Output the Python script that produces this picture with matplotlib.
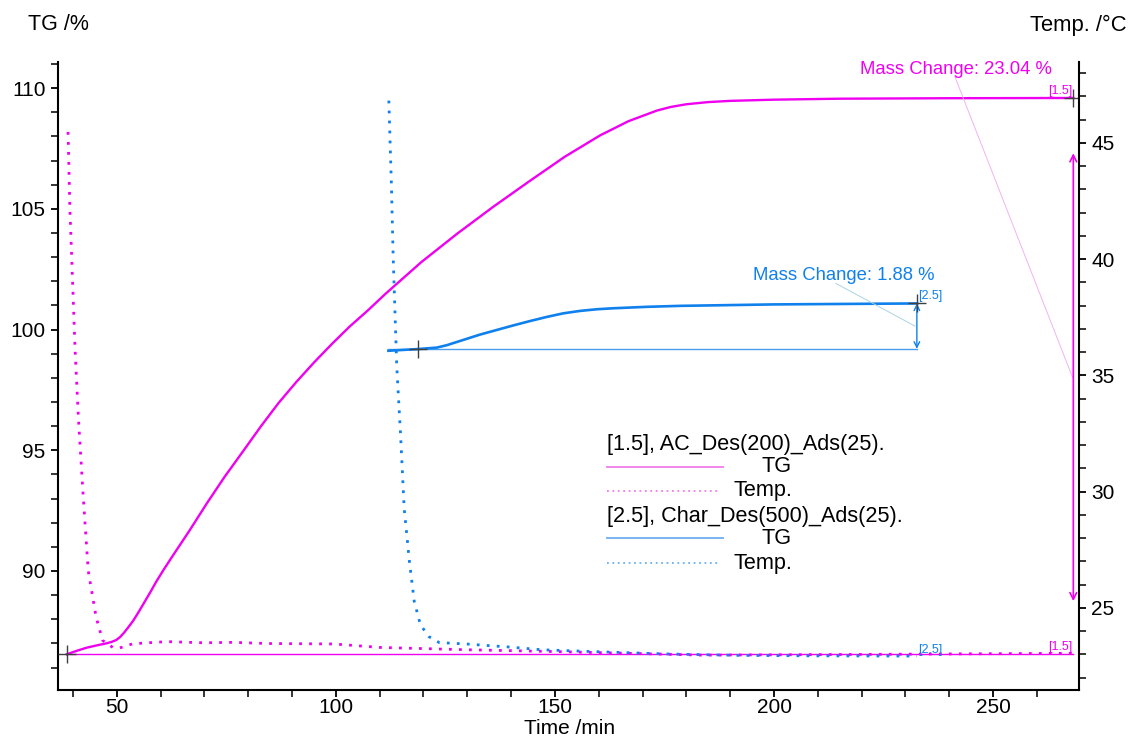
import matplotlib
matplotlib.use("Agg")
import matplotlib.pyplot as plt
from matplotlib.ticker import MultipleLocator

plt.rcParams["font.family"] = ["Liberation Sans", "DejaVu Sans"]

# [1.5] AC_Des(200)_Ads(25)
ac_tg_time = [38.6, 41.0, 43.1, 45.5, 47.6, 48.8, 49.9, 50.8, 51.7, 52.7, 53.8, 55.0, 56.3,
              57.6, 59.0, 60.7, 62.5, 66.6, 70.6, 74.7, 78.8, 82.9, 86.9, 91.0, 95.1, 99.2,
              103.2, 107.3, 111.4, 119.5, 127.7, 135.9, 144.0, 152.2, 160.3, 166.8, 173.3,
              176.5, 180.0, 185.0, 190.0, 200.0, 215.0, 240.0, 268.3]
ac_tg = [86.55, 86.70, 86.82, 86.92, 87.00, 87.06, 87.14, 87.27, 87.45, 87.68, 87.95, 88.30, 88.70,
         89.10, 89.55, 90.05, 90.55, 91.67, 92.81, 93.92, 94.95, 95.99, 96.95, 97.83, 98.65, 99.42,
         100.13, 100.79, 101.49, 102.79, 103.97, 105.08, 106.12, 107.15, 108.04, 108.63, 109.07,
         109.22, 109.33, 109.42, 109.47, 109.52, 109.56, 109.58, 109.59]
ac_temp_time = [38.9, 39.3, 39.9, 40.5, 41.3, 42.3, 43.5, 45.3, 46.8, 49.1, 50.7, 53.7, 61.4,
                70.0, 76.5, 84.2, 99.5, 110.2, 130.0, 151.0, 183.7, 220.0, 268.3]
ac_temp = [45.47, 42.25, 39.17, 36.10, 33.03, 29.96, 26.60, 24.60, 23.60, 23.30, 23.28, 23.46, 23.55,
           23.50, 23.52, 23.47, 23.45, 23.30, 23.20, 23.12, 22.97, 23.00, 23.05]

# [2.5] Char_Des(500)_Ads(25)
char_tg_time = [112.0, 118.7, 123.0, 125.3, 129.1, 132.9, 136.7, 140.5, 144.3, 148.1, 151.9,
                155.7, 159.6, 163.3, 171.0, 178.6, 200.0, 232.6]
char_tg = [99.12, 99.19, 99.25, 99.35, 99.57, 99.79, 99.98, 100.17, 100.35, 100.52, 100.67,
           100.77, 100.84, 100.88, 100.94, 100.98, 101.04, 101.08]
char_temp_time = [112.1, 112.7, 113.1, 113.9, 114.8, 115.6, 116.8, 117.9, 119.3, 121.2, 123.6,
                  130.6, 133.9, 138.8, 147.0, 159.2, 175.6, 191.9, 208.3, 232.6]
char_temp = [46.82, 43.10, 40.03, 35.42, 32.36, 29.28, 26.99, 25.28, 24.28, 23.77, 23.51,
             23.44, 23.39, 23.33, 23.20, 23.12, 23.02, 22.96, 22.94, 22.93]

# mass change evaluations: (start time, end time, start TG, end TG)
ac_step = (38.6, 268.3, 86.55, 109.59)
char_step = (118.7, 232.6, 99.20, 101.08)
ac_arrow = (88.75, 107.3)
ac_label = "Mass Change: 23.04 %"
char_label = "Mass Change: 1.88 %"
ac_label_pos = (241.5, 110.75)
char_label_pos = (215.9, 102.24)
ac_leader = ((241.3, 110.46), (268.1, 98.03))
char_leader = ((214.1, 101.91), (232.2, 100.14))

MAGENTA = "#f000f0"
BLUE = "#0f80ec"

fig = plt.figure(figsize=(11.31, 7.38), dpi=100)
ax = fig.add_axes([58 / 1131, 48 / 738, 1021 / 1131, 628 / 738])
ax2 = ax.twinx()

ax.set_xlim(36.6, 269.6)
ax.set_ylim(85.07, 111.08)
ax2.set_ylim(21.47, 48.48)

for a in (ax, ax2):
    a.spines["top"].set_visible(False)
    for s in a.spines.values():
        s.set_linewidth(1.5)
ax.spines["right"].set_visible(False)
ax2.spines["left"].set_visible(False)
ax2.spines["bottom"].set_visible(False)

ax.xaxis.set_major_locator(MultipleLocator(50))
ax.xaxis.set_minor_locator(MultipleLocator(10))
ax.yaxis.set_major_locator(MultipleLocator(5))
ax.yaxis.set_minor_locator(MultipleLocator(1))
ax2.yaxis.set_major_locator(MultipleLocator(5))
ax2.yaxis.set_minor_locator(MultipleLocator(1))
for a in (ax, ax2):
    a.tick_params(which="major", direction="out", length=5, width=1.3, labelsize=15, pad=4)
    a.tick_params(which="minor", direction="out", length=5, width=1.1)
ax.tick_params(axis="x", which="major", pad=1)

# baselines
ax.plot([ac_step[0], ac_step[1]], [ac_step[2], ac_step[2]], color=MAGENTA, lw=1.0)
ax.plot([char_tg_time[0], char_step[1]], [char_step[2], char_step[2]], color="#4a9ef0", lw=1.0)

# curves
ax.plot(ac_tg_time, ac_tg, color=MAGENTA, lw=1.7)
ax.plot(char_tg_time, char_tg, color=BLUE, lw=1.9)
ax2.plot(ac_temp_time, ac_temp, color=MAGENTA, lw=2.0, ls=(0, (1, 2.6)))
ax2.plot(char_temp_time, char_temp, color=BLUE, lw=2.0, ls=(0, (1, 2.6)))

# start / end markers
ax.plot([ac_step[0], ac_step[1]], [ac_step[2], ac_step[3]], ls="none", marker="+",
        ms=13, mew=1.0, color="#404040", zorder=5)
ax.plot([char_step[0], char_step[1]], [char_step[2], char_step[3]], ls="none", marker="+",
        ms=13, mew=1.0, color="#404040", zorder=5)

# arrows
ax.annotate("", xy=(ac_step[1], ac_arrow[1]), xytext=(ac_step[1], ac_arrow[0]),
            arrowprops=dict(arrowstyle="<->", color=MAGENTA, lw=1.2, shrinkA=0, shrinkB=0,
                            mutation_scale=12))
ax.annotate("", xy=(char_step[1], char_step[3]), xytext=(char_step[1], char_step[2]),
            arrowprops=dict(arrowstyle="<->", color=BLUE, lw=1.0, shrinkA=0, shrinkB=0,
                            mutation_scale=10))

# leader lines and labels
ax.plot([ac_leader[0][0], ac_leader[1][0]], [ac_leader[0][1], ac_leader[1][1]],
        color="#f0b4f0", lw=0.7)
ax.plot([char_leader[0][0], char_leader[1][0]], [char_leader[0][1], char_leader[1][1]],
        color="#a8d4e4", lw=0.7)
ax.text(*ac_label_pos, ac_label, color=MAGENTA, fontsize=13.3, ha="center", va="center")
ax.text(*char_label_pos, char_label, color=BLUE, fontsize=13.3, ha="center", va="center")

# small curve tags
tag = dict(fontsize=9, textcoords="offset points")
ax.annotate("[1.5]", xy=(ac_step[1], ac_step[3]), xytext=(-1, 1), ha="right", va="bottom",
            color=MAGENTA, **tag)
ax.annotate("[2.5]", xy=(char_step[1], char_step[3]), xytext=(1, 1), ha="left", va="bottom",
            color=BLUE, **tag)
ax2.annotate("[1.5]", xy=(ac_temp_time[-1], ac_temp[-1]), xytext=(-1, 0), ha="right", va="bottom",
             color=MAGENTA, **tag)
ax2.annotate("[2.5]", xy=(char_temp_time[-1], char_temp[-1]), xytext=(1, 0), ha="left",
             va="bottom", color=BLUE, **tag)

# legend block
tr = ax2.transAxes
fs = 15.6
ax2.text(0.5377, 0.3917, "[1.5], AC_Des(200)_Ads(25).", transform=tr, fontsize=fs, va="center")
ax2.plot([0.5377, 0.651], [0.3551, 0.3551], transform=tr, color="#f07ce8", lw=1.3)
ax2.text(0.7189, 0.3551, "TG", transform=tr, fontsize=fs, va="center", ha="right")
ax2.plot([0.5377, 0.6484], [0.3169, 0.3169], transform=tr, color="#f07ce8", lw=1.3, ls=(0, (1, 2)))
ax2.text(0.7189, 0.3169, "Temp.", transform=tr, fontsize=fs, va="center", ha="right")
ax2.text(0.5377, 0.2760, "[2.5], Char_Des(500)_Ads(25).", transform=tr, fontsize=fs, va="center")
ax2.plot([0.5377, 0.651], [0.2416, 0.2416], transform=tr, color="#6cb0f0", lw=1.3)
ax2.text(0.7189, 0.2416, "TG", transform=tr, fontsize=fs, va="center", ha="right")
ax2.plot([0.5377, 0.6484], [0.2018, 0.2018], transform=tr, color="#6cb0f0", lw=1.3, ls=(0, (1, 2)))
ax2.text(0.7189, 0.2018, "Temp.", transform=tr, fontsize=fs, va="center", ha="right")

fig.text(28 / 1131, 1 - 25 / 738, "TG /%", fontsize=15.5, ha="left", va="center")
fig.text(1127 / 1131, 1 - 25 / 738, "Temp. /°C", fontsize=15.8, ha="right", va="center")
fig.text(570 / 1131, 0.5 / 738, "Time /min", fontsize=15, ha="center", va="bottom")

fig.savefig("out.png", dpi=100)
